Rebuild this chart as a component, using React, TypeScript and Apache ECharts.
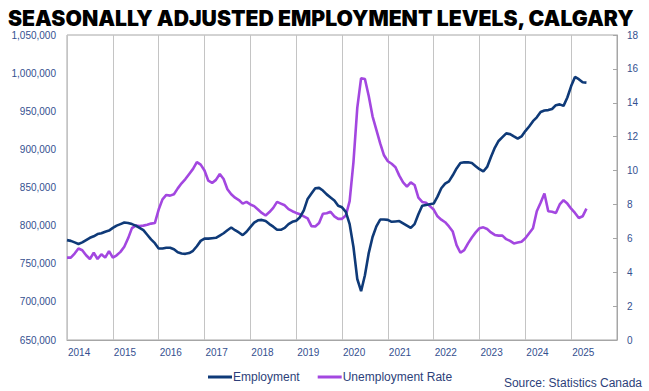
import React, { useEffect, useRef } from "react";
import * as echarts from "echarts";

const years = ["2014", "2015", "2016", "2017", "2018", "2019", "2020", "2021", "2022", "2023", "2024", "2025"];

// Employment, thousands, monthly from Jan 2014
const employment = [
  781, 780, 778, 776, 778, 781, 784, 786, 789, 790, 792, 793.5,
  797, 800, 802, 804, 803.5, 802, 800, 797, 794, 788, 782, 777,
  770, 770, 771, 771, 769, 765, 763.5, 763, 764, 767, 773, 780,
  783, 783, 783.5, 784, 787, 790, 794, 797.5, 794, 791, 787.5, 792,
  798, 804, 807, 807.5, 806, 802, 798.6, 794.5, 794.5, 797, 802, 805,
  806.5, 811, 820, 835, 842, 849, 849.5, 846, 841, 837, 833, 826,
  824, 818, 802, 772, 730, 714, 735, 764, 785, 799, 808, 808,
  807.5, 805, 805.5, 806, 803, 800, 797, 802, 815, 826, 827, 828,
  829, 838, 849, 855, 858, 866, 875, 882, 883, 883, 882, 878,
  874, 871, 877, 890, 902, 911, 916, 921, 920, 917, 914, 917,
  924, 930, 937, 942, 949, 951, 951.5, 953, 958, 959, 957, 968,
  983, 995, 992, 988, 987.5,
];

// Unemployment rate, %, monthly from Jan 2014
const unemployment = [
  4.86, 4.86, 5.1, 5.4, 5.3, 5.0, 4.78, 5.15, 4.78, 5.06, 4.86, 5.25,
  4.86, 5.0, 5.2, 5.5, 6.0, 6.6, 6.75, 6.73, 6.75, 6.8, 6.87, 6.9,
  7.7, 8.3, 8.56, 8.52, 8.6, 8.95, 9.25, 9.5, 9.8, 10.1, 10.5, 10.35,
  10.0, 9.4, 9.27, 9.45, 9.8, 9.5, 8.9, 8.6, 8.4, 8.26, 8.05, 8.15,
  8.0, 7.9, 7.7, 7.5, 7.35, 7.55, 7.8, 8.15, 8.05, 7.95, 7.72, 7.6,
  7.5, 7.42, 7.3, 7.18, 6.72, 6.7, 6.9, 7.45, 7.48, 7.57, 7.3, 7.15,
  7.15, 7.35, 8.2, 10.5, 13.7, 15.45, 15.4, 14.4, 13.2, 12.4, 11.6, 10.9,
  10.55, 10.4, 10.2, 9.7, 9.3, 9.05, 9.3, 9.15, 8.4, 8.15, 8.1, 7.9,
  7.7, 7.3, 7.1, 6.95, 6.7, 6.4, 5.6, 5.15, 5.3, 5.7, 6.05, 6.35,
  6.6, 6.65, 6.55, 6.35, 6.2, 6.16, 6.16, 5.95, 5.85, 5.7, 5.75, 5.8,
  6.0, 6.3, 6.6, 7.6, 8.1, 8.65, 7.6, 7.57, 7.5, 8.0, 8.25, 8.05,
  7.75, 7.5, 7.2, 7.3, 7.75,
];

const EMP_COLOR = "#0f3a78";
const UR_COLOR = "#a347e0";
const LABEL_COLOR = "#34508f";
const FONT = "'Liberation Sans', Arial, sans-serif";

export default function App() {
  const ref = useRef<HTMLDivElement>(null);

  useEffect(() => {
    if (!ref.current) return;
    const chart = echarts.init(ref.current, undefined, { renderer: "svg" });
    const empData = employment.map((v, i) => [i, v * 1000]);
    const urData = unemployment.map((v, i) => [i, v]);
    chart.setOption({
      animation: false,
      backgroundColor: "#ffffff",
      title: {
        text: "SEASONALLY ADJUSTED EMPLOYMENT LEVELS, CALGARY",
        left: 3,
        top: 2,
        textStyle: {
          fontFamily: "Inter, 'Noto Sans', sans-serif",
          fontWeight: 900,
          fontSize: 21.2,
          color: "#000000",
        },
      },
      grid: {
        left: 67,
        right: 32,
        top: 35,
        bottom: 51,
        show: true,
        borderColor: "#a6a6a6",
        borderWidth: 1,
        backgroundColor: "transparent",
      },
      legend: {
        left: 203,
        top: 366,
        itemWidth: 24,
        itemHeight: 3,
        itemGap: 18,
        icon: "rect",
        textStyle: { fontFamily: FONT, fontSize: 12, color: "#2d3f7a", padding: [0, 0, 0, -4] },
        data: ["Employment", "Unemployment Rate"],
      },
      graphic: [
        {
          type: "text",
          right: 7,
          top: 377,
          style: {
            text: "Source: Statistics Canada",
            fontFamily: FONT,
            fontSize: 12,
            fill: "#2d3f7a",
          },
        },
      ],
      xAxis: {
        type: "value",
        min: 0,
        max: 144,
        interval: 12,
        axisLine: { show: true, lineStyle: { color: "#a6a6a6" } },
        axisTick: { show: false },
        splitLine: { show: true, lineStyle: { color: "#c4c4c4", width: 1 } },
        axisLabel: {
          margin: 7,
          align: "left",
          fontFamily: FONT,
          fontSize: 10,
          color: LABEL_COLOR,
          padding: [0, 0, 0, 1],
          formatter: (v: number) => {
            const idx = Math.round(v / 12);
            return idx < years.length ? years[idx] : "";
          },
        },
      },
      yAxis: [
        {
          type: "value",
          min: 650000,
          max: 1050000,
          interval: 50000,
          axisLine: { show: false },
          axisTick: { show: false },
          splitLine: { show: false },
          axisLabel: {
            margin: 11,
            fontFamily: FONT,
            fontSize: 10,
            color: LABEL_COLOR,
            formatter: (v: number) => v.toLocaleString("en-US"),
          },
        },
        {
          type: "value",
          min: 0,
          max: 18,
          interval: 2,
          position: "right",
          axisLine: { show: true, lineStyle: { color: "#a6a6a6" } },
          axisTick: { show: true, inside: true, length: 4, lineStyle: { color: "#a6a6a6" } },
          splitLine: { show: false },
          axisLabel: {
            margin: 10,
            fontFamily: FONT,
            fontSize: 10,
            color: LABEL_COLOR,
          },
        },
      ],
      series: [
        {
          name: "Employment",
          type: "line",
          yAxisIndex: 0,
          data: empData,
          showSymbol: false,
          symbol: "none",
          color: EMP_COLOR,
          lineStyle: { color: EMP_COLOR, width: 2.6 },
          z: 3,
        },
        {
          name: "Unemployment Rate",
          type: "line",
          yAxisIndex: 1,
          data: urData,
          showSymbol: false,
          symbol: "none",
          color: UR_COLOR,
          lineStyle: { color: UR_COLOR, width: 2.6 },
          z: 2,
        },
      ],
    });
    return () => chart.dispose();
  }, []);

  return <div ref={ref} style={{ width: 649, height: 391, position: "absolute", left: 0, top: 0 }} />;
}
